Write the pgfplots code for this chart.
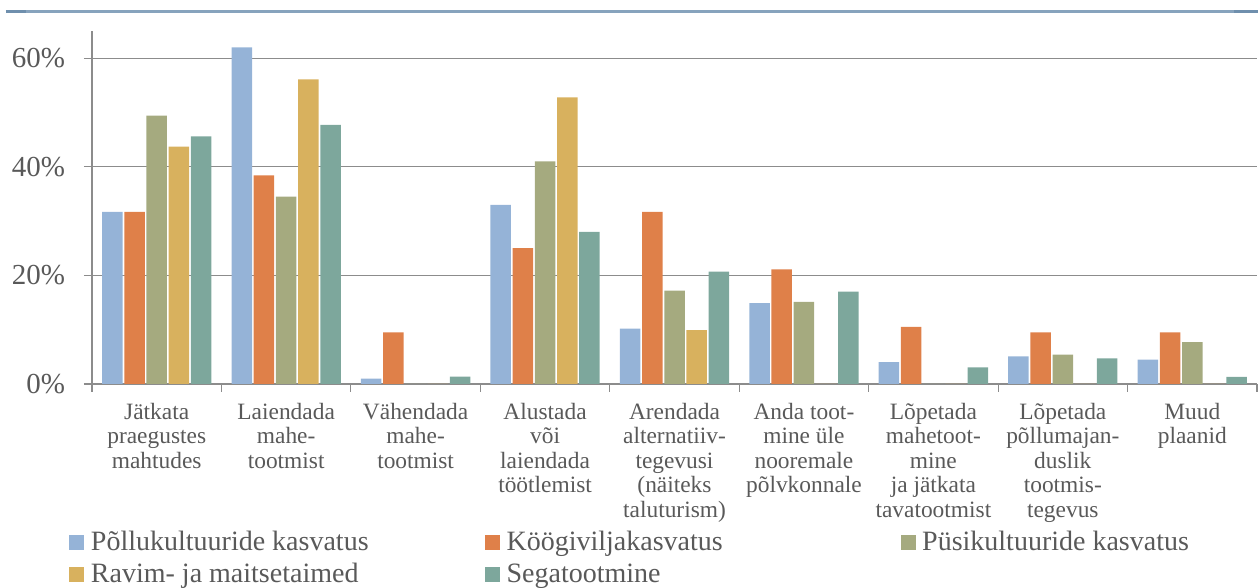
\documentclass[border=0pt]{standalone}
\usepackage{pgfplots}
\pgfplotsset{compat=1.18}
\usepackage{pgfplotstable}
\usepackage{fontspec}
\setmainfont{Liberation Serif}
\definecolor{cBlue}{HTML}{95B3D7}
\definecolor{cOrange}{HTML}{DF8049}
\definecolor{cGreen}{HTML}{A5AA7F}
\definecolor{cYellow}{HTML}{D8B15E}
\definecolor{cTeal}{HTML}{7DA79C}
\definecolor{txt}{HTML}{595959}
\definecolor{gridc}{HTML}{8C8C8C}
\definecolor{topline}{HTML}{87A3BD}
\definecolor{toplined}{HTML}{6F8FAD}

\pgfplotstableread{
x  p    k    y    r    s
0  31.7 31.7 49.4 43.7 45.6
1  62.0 38.4 34.5 56.1 47.7
2  1.0  9.5  0    0    1.35
3  33.0 25.0 41.0 52.8 28.0
4  10.2 31.7 17.2 9.9  20.7
5  14.9 21.1 15.1 0    17.0
6  4.05 10.5 0    0    3.07
7  5.1  9.5  5.4  0    4.7
8  4.5  9.5  7.7  0    1.3
}\data

\pgfplotsset{
  sq/.style={legend image code/.code={\fill[##1] (0pt,-3.5pt) rectangle (7.5pt,4pt);}},
}
\newcommand{\lt}[1]{\makebox[197pt][l]{#1}}

\begin{document}
\begin{tikzpicture}
\begin{axis}[
  at={(0,0)}, anchor=south west,
  scale only axis, width=582.5pt, height=176.5pt,
  ymin=0, ymax=65, xmin=-0.5, xmax=8.5,
  ybar=0.85pt, bar width=10.25pt,
  axis x line*=bottom, axis y line*=left,
  axis line style={gridc, -, line width=0.6pt},
  ytick={0,20,40,60}, yticklabels={0\%,20\%,40\%,60\%},
  ymajorgrids, grid style={gridc, line width=0.6pt},
  xtick={0,...,8},
  minor xtick={-0.5,0.5,...,8.5},
  tick align=outside, major tick length=4pt, minor tick length=4pt,
  major x tick style={draw=none},
  tick style={gridc, line width=0.6pt},
  xticklabels={{Jätkata\\praegustes\\mahtudes},{Laiendada\\mahe-\\tootmist},{Vähendada\\mahe-\\tootmist},{Alustada\\või\\laiendada\\töötlemist},{Arendada\\alternatiiv-\\tegevusi\\(näiteks\\taluturism)},{Anda toot-\\mine üle\\nooremale\\põlvkonnale},{Lõpetada\\mahetoot-\\mine\\ja jätkata\\tavatootmist},{Lõpetada\\põllumajan-\\duslik\\tootmis-\\tegevus},{Muud\\plaanid}},
  xticklabel style={align=center, font=\fontsize{11.7}{12.25}\selectfont, text=txt, anchor=north, yshift=-2pt},
  yticklabel style={font=\fontsize{14.5}{17}\selectfont, text=txt, anchor=east, xshift=-6pt},
  legend columns=3,
  legend cell align=left,
  legend style={at={(axis description cs:0,0)}, anchor=north west, xshift=-11.5pt, yshift=-73pt,
    draw=none, fill=none, inner sep=0pt, font=\fontsize{14}{16}\selectfont, text=txt,
    nodes={inner sep=0pt, text height=10pt, text depth=3pt},
    row sep=3pt,
    /tikz/every odd column/.append style={column sep=3.3pt},
    /tikz/every even column/.append style={column sep=0pt}},
]
\addplot[fill=cBlue, draw=none, sq] table[x=x, y=p] {\data};
\addlegendentry{\lt{Põllukultuuride kasvatus}}
\addplot[fill=cOrange, draw=none, sq] table[x=x, y=k] {\data};
\addlegendentry{\lt{Köögiviljakasvatus}}
\addplot[fill=cGreen, draw=none, sq] table[x=x, y=y] {\data};
\addlegendentry{\lt{Püsikultuuride kasvatus}}
\addplot[fill=cYellow, draw=none, sq] table[x=x, y=r] {\data};
\addlegendentry{\lt{Ravim- ja maitsetaimed}}
\addplot[fill=cTeal, draw=none, sq] table[x=x, y=s] {\data};
\addlegendentry{\lt{Segatootmine}}
\end{axis}
\draw[topline, line width=1.5pt] (-43pt,186.25pt) -- (583pt,186.25pt);
\draw[toplined, line width=1.5pt] (-43pt,186.25pt) -- (-33pt,186.25pt);
\draw[toplined, line width=1.5pt] (571pt,186.25pt) -- (583pt,186.25pt);
\pgfresetboundingbox
\useasboundingbox (-46pt,-102pt) rectangle (583pt,192pt);
\end{tikzpicture}
\end{document}
